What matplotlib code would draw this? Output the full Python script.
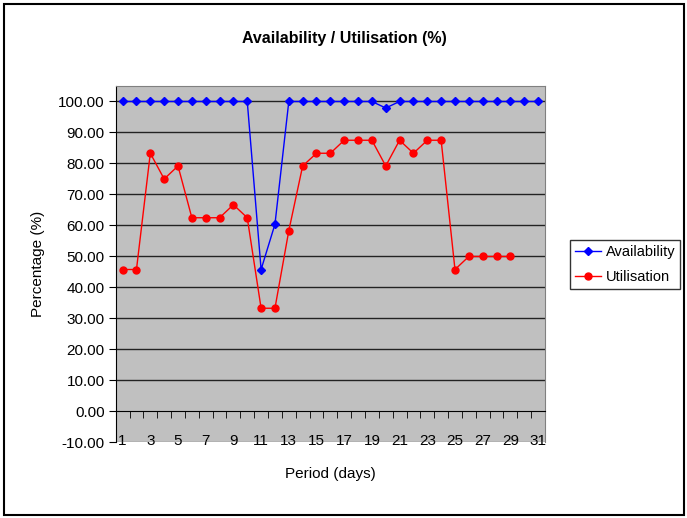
import numpy as np
import matplotlib
matplotlib.use("agg")
import matplotlib.pyplot as plt
from matplotlib.patches import Rectangle
from matplotlib.ticker import FormatStrFormatter, MultipleLocator

plt.rcParams["font.family"] = ["Liberation Sans", "DejaVu Sans"]

DAYS = np.arange(1, 32)

# Daily availability (%) for the month
AVAILABILITY = [100.0, 100.0, 100.0, 100.0, 100.0, 100.0, 100.0, 100.0, 100.0, 100.0,
                45.8, 60.4, 100.0, 100.0, 100.0, 100.0, 100.0, 100.0, 100.0, 97.9,
                100.0, 100.0, 100.0, 100.0, 100.0, 100.0, 100.0, 100.0, 100.0, 100.0,
                100.0]

# Daily utilisation (%), no data for the last two days
UTILISATION = [45.8, 45.8, 83.3, 75.0, 79.2, 62.5, 62.5, 62.5, 66.7, 62.5,
               33.3, 33.3, 58.3, 79.2, 83.3, 83.3, 87.5, 87.5, 87.5, 79.2,
               87.5, 83.3, 87.5, 87.5, 45.8, 50.0, 50.0, 50.0, 50.0, np.nan,
               np.nan]

fig = plt.figure(figsize=(6.87, 5.18), dpi=100)
fig.patches.append(Rectangle((0.006, 0.006), 0.990, 0.986, transform=fig.transFigure,
                             fill=False, edgecolor="black", linewidth=1.5))

ax = fig.add_axes([0.1684, 0.1458, 0.6249, 0.6882])
ax.set_facecolor("#c0c0c0")

ax.plot(DAYS, AVAILABILITY, color="#0000ff", linewidth=1.0, marker="D",
        markersize=4, label="Availability", zorder=3)
ax.plot(DAYS, UTILISATION, color="#ff0000", linewidth=1.0, marker="o",
        markersize=5, label="Utilisation", zorder=3)

ax.set_xlim(0.5, 31.5)
ax.set_ylim(-10, 105)

# horizontal gridlines
ax.yaxis.set_major_locator(MultipleLocator(10))
ax.yaxis.set_major_formatter(FormatStrFormatter("%.2f"))
for v in range(10, 101, 10):
    ax.axhline(v, color="#222222", linewidth=1.0, zorder=1)

# category axis crossing at zero
ax.spines["bottom"].set_position(("data", 0))
ax.spines["bottom"].set_color("black")
ax.spines["left"].set_color("black")
ax.spines["top"].set_color("#808080")
ax.spines["right"].set_color("#808080")
ax.axhline(-10, color="#808080", linewidth=1.0, zorder=2)

ax.set_xticks(DAYS[::2])
ax.set_xticks(np.arange(0.5, 32, 1), minor=True)
ax.tick_params(axis="x", which="major", length=0, pad=16, labelsize=11)
ax.tick_params(axis="x", which="minor", direction="out", length=5, color="black")
ax.tick_params(axis="y", direction="out", length=5, labelsize=11, pad=3)

ax.set_xlabel("Period (days)", fontsize=11, labelpad=0)
ax.xaxis.set_label_coords(0.5, -0.07)
ax.set_ylabel("Percentage (%)", fontsize=11, labelpad=9)

fig.text(0.502, 0.925, "Availability / Utilisation (%)", ha="center", va="center",
         fontsize=11.5, fontweight="bold")

leg = ax.legend(loc="center left", bbox_to_anchor=(1.058, 0.5), frameon=True,
                fancybox=False, edgecolor="black", fontsize=10.5, handlelength=1.8,
                borderpad=0.35, labelspacing=0.75, handletextpad=0.3,
                borderaxespad=0.0)
leg.get_frame().set_linewidth(1.0)

fig.savefig("out.png", dpi=100, facecolor="white")
